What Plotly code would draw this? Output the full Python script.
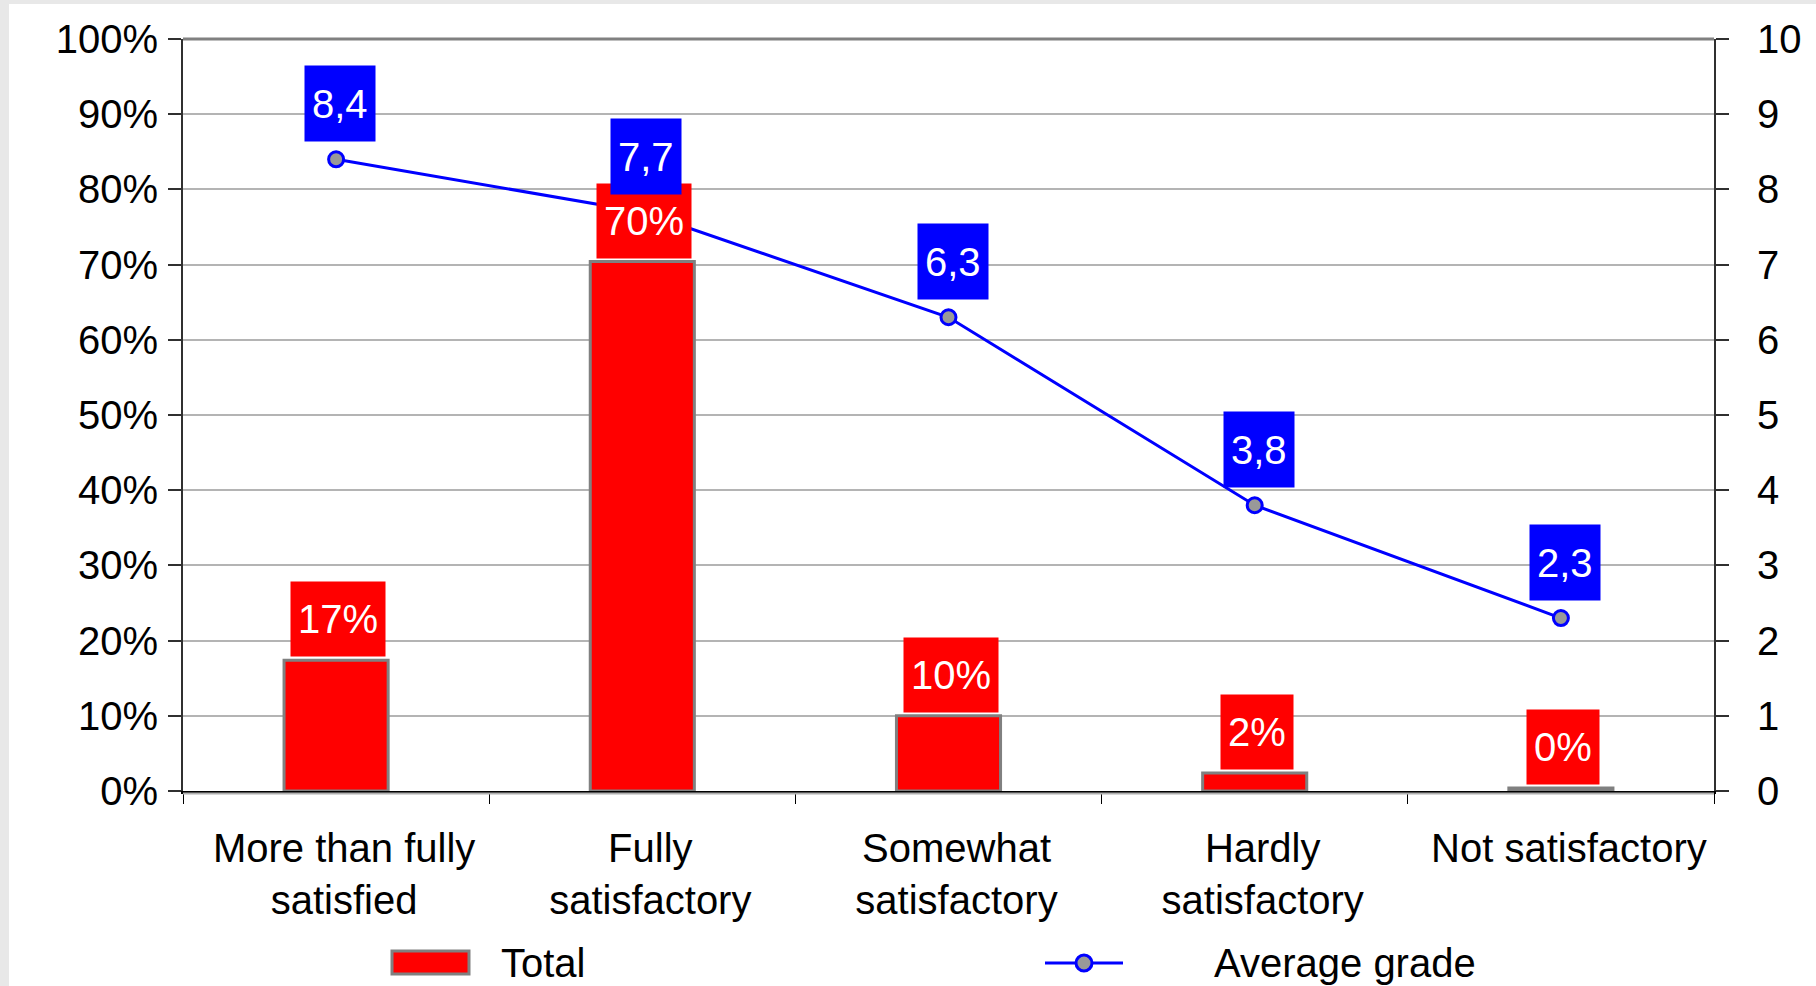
import plotly.graph_objects as go

# Chart data
categories = [
    "More than fully<br>satisfied",
    "Fully<br>satisfactory",
    "Somewhat<br>satisfactory",
    "Hardly<br>satisfactory",
    "Not satisfactory",
]
total_pct = [17.4, 70.4, 10.0, 2.4, 0.4]
average_grade = [8.4, 7.7, 6.3, 3.8, 2.3]
pct_ticks = list(range(0, 101, 10))
grade_ticks = list(range(0, 11))

FONT = "Arial, Liberation Sans, sans-serif"
FS = 40
RED = "#FF0000"
BLUE = "#0000FF"
GREY_EDGE = "#808080"
MARKER_FILL = "#999999"

W, H = 1816, 986
ML, MR, MT, MB = 183, 102, 39, 195
PW, PH = W - ML - MR, H - MT - MB


def px_x(px):
    return (px - ML) / PW


def px_y(py):
    return (H - MB - py) / PH


fig = go.Figure()

fig.add_trace(go.Bar(
    x=categories, y=total_pct, name="Total", width=0.34,
    marker=dict(color=RED, line=dict(color=GREY_EDGE, width=3)),
    showlegend=False,
))

fig.add_trace(go.Scatter(
    x=categories, y=average_grade, name="Average grade", yaxis="y2",
    mode="lines+markers",
    line=dict(color=BLUE, width=3),
    marker=dict(size=15, color=MARKER_FILL, line=dict(color=BLUE, width=3)),
    showlegend=False,
))

# Value labels on red boxes above the bars
for c, v in zip(categories, total_pct):
    fig.add_annotation(
        x=c, y=v, xref="x", yref="y", text=f"{v:.0f}%", showarrow=False,
        yanchor="bottom", yshift=3, xshift=2, bgcolor=RED, borderpad=7, height=60,
        font=dict(color="white", size=FS, family=FONT),
    )

# Grade labels on blue boxes above the markers
for c, v in zip(categories, average_grade):
    fig.add_annotation(
        x=c, y=v, xref="x", yref="y2", text=f"{v:.1f}".replace(".", ","),
        showarrow=False, yanchor="bottom", yshift=17, xshift=4,
        bgcolor=BLUE, borderpad=7, height=61,
        font=dict(color="white", size=FS, family=FONT),
    )

# Legend drawn below the plot
fig.add_annotation(x=px_x(499), y=px_y(963), xref="paper", yref="paper",
                   text="Total", showarrow=False, xanchor="left", yanchor="middle",
                   font=dict(color="black", size=FS, family=FONT))
fig.add_annotation(x=px_x(1212), y=px_y(963), xref="paper", yref="paper",
                   text="Average grade", showarrow=False, xanchor="left", yanchor="middle",
                   font=dict(color="black", size=FS, family=FONT))

shapes = [
    # page frame: grey strip left/top, white card
    dict(type="rect", xref="paper", yref="paper", layer="below",
         x0=px_x(9), x1=px_x(W + 5), y0=px_y(H + 5), y1=px_y(4),
         fillcolor="white", line=dict(width=0)),
    # top border of the plot area
    dict(type="line", xref="paper", yref="paper", x0=0, x1=1, y0=1, y1=1,
         line=dict(color=GREY_EDGE, width=3)),
    # soft shadow under the category axis
    dict(type="line", xref="paper", yref="paper", x0=0, x1=1,
         y0=px_y(793.5), y1=px_y(793.5), line=dict(color="#B0B0B0", width=2)),
    # legend keys
    dict(type="rect", xref="paper", yref="paper",
         x0=px_x(392), x1=px_x(469), y0=px_y(974), y1=px_y(951),
         fillcolor=RED, line=dict(color=GREY_EDGE, width=3)),
    dict(type="line", xref="paper", yref="paper",
         x0=px_x(1045), x1=px_x(1123), y0=px_y(963), y1=px_y(963),
         line=dict(color=BLUE, width=3)),
    dict(type="circle", xref="paper", yref="paper",
         x0=px_x(1076), x1=px_x(1092), y0=px_y(971), y1=px_y(955),
         fillcolor=MARKER_FILL, line=dict(color=BLUE, width=3)),
]

fig.update_layout(
    width=W, height=H, autosize=False,
    margin=dict(l=ML, r=MR, t=MT, b=MB, pad=0),
    paper_bgcolor="#E8E8E8", plot_bgcolor="white",
    font=dict(family=FONT, size=FS, color="black"),
    showlegend=False,
    bargap=0.66,
    shapes=shapes,
    xaxis=dict(
        type="category", showgrid=False, zeroline=False,
        showline=True, linecolor="black", linewidth=2.5,
        ticks="outside", tickson="boundaries", ticklen=10,
        tickcolor="black", tickwidth=1.2,
        tickfont=dict(size=FS, color="black", family=FONT),
        ticklabelstandoff=20, ticklabelshift=8,
    ),
    yaxis=dict(
        range=[0, 100], tickvals=pct_ticks, ticktext=[f"{t}%" for t in pct_ticks],
        showgrid=True, gridcolor="#B4B4B4", gridwidth=1.5, zeroline=False,
        showline=True, linecolor="#303030", linewidth=2,
        ticks="outside", ticklen=13, tickcolor="#303030", tickwidth=1.5,
        tickfont=dict(size=FS, color="black", family=FONT),
        ticklabelstandoff=2,
    ),
    yaxis2=dict(
        overlaying="y", side="right", range=[0, 10], tickvals=grade_ticks,
        showgrid=False, zeroline=False,
        showline=True, linecolor="#303030", linewidth=2,
        ticks="outside", ticklen=13, tickcolor="#303030", tickwidth=1.5,
        tickfont=dict(size=FS, color="black", family=FONT),
        ticklabelstandoff=20,
    ),
)

fig.write_html("out.html")
